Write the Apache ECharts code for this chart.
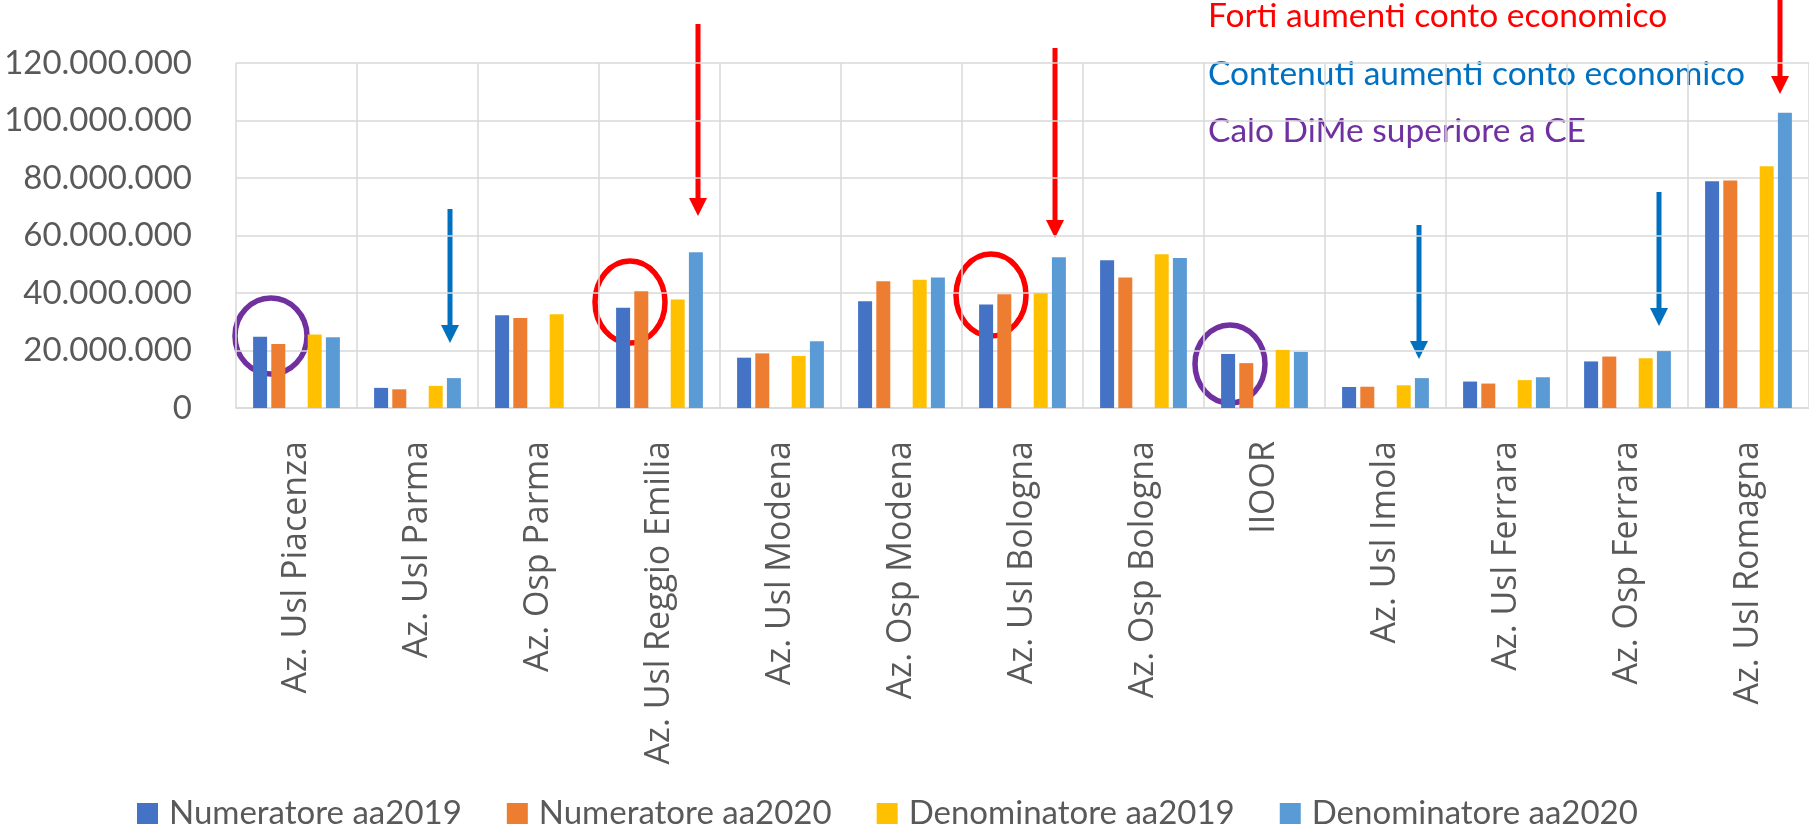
<!DOCTYPE html>
<html>
<head>
<meta charset="utf-8">
<title>Numeratore / Denominatore per azienda</title>
<script src="https://cdn.jsdelivr.net/npm/echarts@6.0.0/dist/echarts.min.js"></script>
<style>
  html, body { margin: 0; padding: 0; background: #fff; }
  #chart { width: 1809px; height: 827px; }
</style>
</head>
<body>
<div id="chart"></div>
<script>
// dati (euro)
const aziende = [
  'Az. Usl Piacenza', 'Az. Usl Parma', 'Az. Osp Parma', 'Az. Usl Reggio Emilia',
  'Az. Usl Modena', 'Az. Osp Modena', 'Az. Usl Bologna', 'Az. Osp Bologna',
  'IIOOR', 'Az. Usl Imola', 'Az. Usl Ferrara', 'Az. Osp Ferrara', 'Az. Usl Romagna'
]
const numeratore2019 = [24800000, 7000000, 32300000, 34900000, 17500000, 37100000, 36000000, 51400000, 18800000, 7300000, 9200000, 16200000, 78900000]
const numeratore2020 = [22300000, 6500000, 31300000, 40600000, 19000000, 44100000, 39600000, 45400000, 15600000, 7400000, 8500000, 17900000, 79100000]
const denominatore2019 = [25600000, 7700000, 32600000, 37700000, 18100000, 44600000, 39900000, 53500000, 20200000, 7900000, 9700000, 17300000, 84100000]
const denominatore2020 = [24600000, 10400000, null, 54200000, 23200000, 45400000, 52400000, 52200000, 19500000, 10400000, 10700000, 19800000, 102700000]
const yTicks = { min: 0, max: 120000000, step: 20000000 }

// annotazioni sovrapposte (pixel)
const notes = [
  { text: 'Forti aumenti conto economico', color: '#ff0000', y: 16 },
  { text: 'Contenuti aumenti conto economico', color: '#0070c0', y: 74 },
  { text: 'Calo DiMe superiore a CE', color: '#7030a0', y: 131 }
]
const arrows = [
  { x: 698, top: 24, tip: 216, color: '#ff0000' },
  { x: 1055, top: 48, tip: 238, color: '#ff0000' },
  { x: 1780, top: -5, tip: 94, color: '#ff0000' },
  { x: 450, top: 209, tip: 343, color: '#0070c0' },
  { x: 1419, top: 225, tip: 359, color: '#0070c0' },
  { x: 1659, top: 192, tip: 326, color: '#0070c0' }
]
const rings = [
  { cx: 271, cy: 336, rx: 36, ry: 38, color: '#7030a0' },
  { cx: 630, cy: 302, rx: 35, ry: 41, color: '#ff0000' },
  { cx: 991, cy: 295, rx: 35, ry: 41, color: '#ff0000' },
  { cx: 1230, cy: 364, rx: 35, ry: 39, color: '#7030a0' }
]

const colors = ['#4472c4', '#ed7d31', '#ffc000', '#5b9bd5']
const labelColor = '#595959'
const gridColor = '#d9d9d9'

function formatMigliaia(v) {
  return String(v).replace(/\B(?=(\d{3})+(?!\d))/g, '.')
}

function barSeries(name, data, color) {
  return {
    name: name,
    type: 'bar',
    data: data,
    barWidth: 14,
    barGap: '30%',
    itemStyle: { color: color },
    emphasis: { disabled: true }
  }
}

function buildGraphic() {
  const items = []
  notes.forEach(n => {
    items.push({
      type: 'text',
      x: 1208,
      y: n.y,
      style: {
        text: n.text,
        fill: n.color,
        fontFamily: 'Lato',
        fontSize: 33.5,
        verticalAlign: 'middle'
      }
    })
  })
  arrows.forEach(a => {
    const base = a.tip - 18
    items.push({
      type: 'line',
      shape: { x1: a.x, y1: a.top, x2: a.x, y2: base + 1 },
      style: { stroke: a.color, lineWidth: 5 }
    })
    items.push({
      type: 'polygon',
      shape: { points: [[a.x - 9, base], [a.x + 9, base], [a.x, a.tip]] },
      style: { fill: a.color }
    })
  })
  rings.forEach(r => {
    items.push({
      type: 'ellipse',
      shape: { cx: r.cx, cy: r.cy, rx: r.rx, ry: r.ry },
      style: { fill: 'none', stroke: r.color, lineWidth: 5.5 }
    })
  })
  return items
}

const chart = echarts.init(document.getElementById('chart'))

const option = {
  animation: false,
  backgroundColor: '#ffffff',
  grid: {
    left: 236,
    right: 0,
    top: 63,
    bottom: 419,
    containLabel: false,
    outerBoundsMode: 'none'
  },
  legend: {
    data: ['Numeratore aa2019', 'Numeratore aa2020', 'Denominatore aa2019', 'Denominatore aa2020'],
    left: 132,
    top: 792,
    icon: 'rect',
    itemWidth: 21,
    itemHeight: 21,
    itemGap: 45,
    textStyle: { color: labelColor, fontFamily: 'Lato', fontSize: 33, padding: [0, 0, 0, 6] }
  },
  xAxis: {
    type: 'category',
    data: aziende,
    axisLine: { show: true, lineStyle: { color: gridColor, width: 1.5 } },
    axisTick: { show: false },
    splitLine: { show: true, lineStyle: { color: gridColor, width: 1.5 } },
    axisLabel: {
      interval: 0,
      rotate: 90,
      margin: 33,
      color: labelColor,
      fontFamily: 'Open Sans',
      fontSize: 34
    }
  },
  yAxis: {
    type: 'value',
    min: yTicks.min,
    max: yTicks.max,
    interval: yTicks.step,
    axisLine: { show: false },
    axisTick: { show: false },
    splitLine: { lineStyle: { color: gridColor, width: 1.5 } },
    axisLabel: {
      margin: 44,
      color: labelColor,
      fontFamily: 'Lato',
      fontSize: 33,
      formatter: formatMigliaia
    }
  },
  series: [
    barSeries('Numeratore aa2019', numeratore2019, colors[0]),
    barSeries('Numeratore aa2020', numeratore2020, colors[1]),
    // serie vuota: lascia lo spazio centrale come nel grafico originale
    { name: 'vuoto', type: 'bar', data: [], barWidth: 14, barGap: '30%' },
    barSeries('Denominatore aa2019', denominatore2019, colors[2]),
    barSeries('Denominatore aa2020', denominatore2020, colors[3])
  ],
  graphic: buildGraphic()
}

chart.setOption(option)
</script>
</body>
</html>
